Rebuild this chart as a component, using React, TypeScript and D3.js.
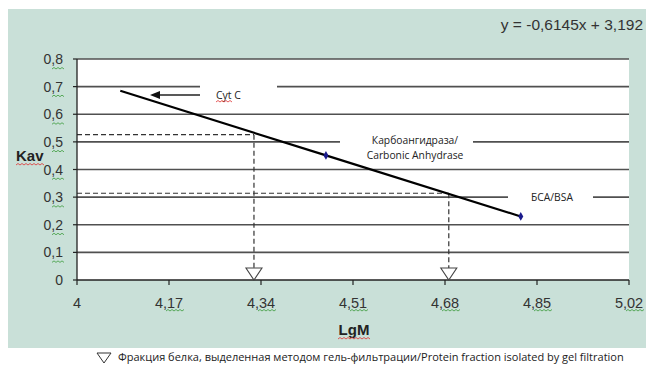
import React from 'react';
import * as d3 from 'd3';

// LgM / Kav of the calibration proteins
const proteins = ['Cyt C', 'Carbonic Anhydrase', 'BSA'];
const lgM = [4.08, 4.46, 4.82];
const kav = [0.685, 0.451, 0.23];
const showMarker = [false, true, true];

const xTicks = [4, 4.17, 4.34, 4.51, 4.68, 4.85, 5.02];
const yTicks = [0, 0.1, 0.2, 0.3, 0.4, 0.5, 0.6, 0.7, 0.8];

// fractions found by gel filtration (Kav read -> LgM)
const fractionKav = [0.526, 0.314];
const fractionLgM = [4.327, 4.687];

const equation = 'y = -0,6145x + 3,192';
const legendText = 'Фракция белка, выделенная методом гель-фильтрации/Protein fraction isolated by gel filtration';

const W = 646, H = 365;
const green = '#c9e0d8';
const fmt = (v: number) => String(v).replace('.', ',');

// little spell-check squiggle like in the screenshot
const squiggle = (x0: number, x1: number, y: number) => {
  let d = `M${x0},${y}`;
  let up = true;
  for (let x = x0 + 2; x <= x1; x += 2) {
    d += ` L${x},${up ? y - 1.5 : y}`;
    up = !up;
  }
  return d;
};

export default function App() {
  const x = d3.scaleLinear().domain([4, 5.02]).range([77, 629]);
  const y = d3.scaleLinear().domain([0, 0.8]).range([280, 59]);

  const line = d3.line<number>()
    .x((d) => x(lgM[d]))
    .y((d) => y(kav[d]));

  const axisFont = '"Liberation Sans", Arial, sans-serif';
  const labelFont = '"Open Sans", sans-serif';

  return (
    <svg width={W} height={H} style={{ position: 'absolute', left: 0, top: 0, background: '#fff' }}>
      <rect x={8} y={9} width={W - 8} height={339} fill={green} />
      <rect x={x(4)} y={y(0.8)} width={x(5.02) - x(4)} height={y(0) - y(0.8)} fill="#fff" />

      {/* gridlines */}
      {yTicks.filter((t) => t > 0).map((t) => (
        <line key={t} x1={x(4)} x2={x(5.02)} y1={y(t)} y2={y(t)} stroke="#505050" strokeWidth={1.6} />
      ))}

      {/* label boxes cutting the gridlines */}
      <rect x={200} y={y(0.72)} width={77} height={y(0.62) - y(0.72)} fill="#fff" />
      <rect x={340} y={y(0.54)} width={133} height={y(0.42) - y(0.54)} fill="#fff" />
      <rect x={508} y={y(0.34)} width={85} height={y(0.26) - y(0.34)} fill="#fff" />

      {/* arrow to Cyt C */}
      <line x1={200} x2={158} y1={95} y2={95} stroke="#222" strokeWidth={1.3} />
      <path d="M150,95 L160,91 L160,99 Z" fill="#111" />
      <text x={216} y={99} fontFamily={labelFont} fontSize={10.5} fill="#222">Cyt C</text>
      <path d={squiggle(216, 232, 102)} stroke="#e03030" fill="none" strokeWidth={0.8} />

      <text x={415} y={144} textAnchor="middle" fontFamily={labelFont} fontSize={10.3} fill="#222">Карбоангидраза/</text>
      <text x={415} y={159} textAnchor="middle" fontFamily={labelFont} fontSize={10.3} fill="#222">Carbonic Anhydrase</text>
      <text x={552} y={201} textAnchor="middle" fontFamily={labelFont} fontSize={10.3} fill="#222">БСА/BSA</text>

      {/* dashed read-offs */}
      {fractionKav.map((k, i) => (
        <g key={i} stroke="#333" strokeWidth={1.2} strokeDasharray="5,3" fill="none">
          <line x1={x(4)} x2={x(fractionLgM[i])} y1={y(k)} y2={y(k)} />
          <line x1={x(fractionLgM[i])} x2={x(fractionLgM[i])} y1={y(k)} y2={y(0) - 11} />
        </g>
      ))}

      {/* axes */}
      <line x1={x(4)} x2={x(4)} y1={y(0.8)} y2={y(0)} stroke="#222" strokeWidth={1.3} />
      <line x1={x(4)} x2={x(5.02)} y1={y(0)} y2={y(0)} stroke="#222" strokeWidth={1.3} />
      {yTicks.map((t) => (
        <g key={t}>
          <line x1={x(4) - 4} x2={x(4)} y1={y(t)} y2={y(t)} stroke="#222" strokeWidth={1.2} />
          <text x={63} y={y(t) + 5} textAnchor="end" fontFamily={axisFont} fontSize={14} fill="#333">{fmt(t)}</text>
          {t > 0 && <path d={squiggle(52, 64, y(t) + 10)} stroke="#3a9a3a" fill="none" strokeWidth={0.8} />}
        </g>
      ))}
      {xTicks.map((t) => (
        <g key={t}>
          <line x1={x(t)} x2={x(t)} y1={y(0)} y2={y(0) + 5} stroke="#222" strokeWidth={1.2} />
          <text x={x(t)} y={308} textAnchor="middle" fontFamily={axisFont} fontSize={14.5} fill="#333">{fmt(t)}</text>
          {t !== 4 && <path d={squiggle(x(t) - 3, x(t) + 15, 311)} stroke="#3a9a3a" fill="none" strokeWidth={0.8} />}
        </g>
      ))}

      {/* regression line and points */}
      <path d={line(d3.range(lgM.length)) ?? ''} stroke="#000" strokeWidth={2.2} fill="none" />
      {lgM.map((m, i) => showMarker[i] && (
        <path key={proteins[i]} d={d3.symbol(d3.symbolDiamond, 22)() ?? ''}
          transform={`translate(${x(m)},${y(kav[i])})`} fill="#1a1a8c" />
      ))}

      {/* fraction triangles */}
      {fractionLgM.map((m, i) => (
        <path key={i} d={`M${x(m) - 8},${y(0) - 12} L${x(m) + 8},${y(0) - 12} L${x(m)},${y(0)} Z`}
          fill="#fff" stroke="#444" strokeWidth={1.1} />
      ))}

      {/* axis titles */}
      <text x={16} y={161} fontFamily={axisFont} fontSize={15} fontWeight="bold" fill="#222">Kav</text>
      <path d={squiggle(16, 44, 165)} stroke="#e03030" fill="none" strokeWidth={0.8} />
      <text x={354} y={335} textAnchor="middle" fontFamily={axisFont} fontSize={15} fontWeight="bold" fill="#222">LgM</text>
      <path d={squiggle(338, 370, 339)} stroke="#e03030" fill="none" strokeWidth={0.8} />

      <text x={643} y={30} textAnchor="end" fontFamily={axisFont} fontSize={15.5} fill="#333">{equation}</text>

      {/* legend */}
      <path d="M97,353 L111,353 L104,363 Z" fill="#fff" stroke="#333" strokeWidth={1} />
      <text x={118} y={361} fontFamily={labelFont} fontSize={11} fill="#222">{legendText}</text>
    </svg>
  );
}
